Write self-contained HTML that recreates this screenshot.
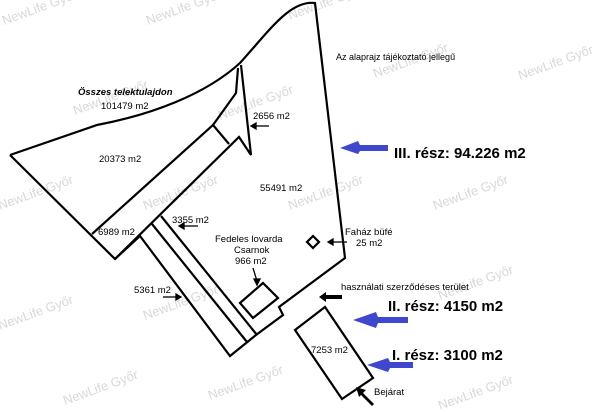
<!DOCTYPE html>
<html><head><meta charset="utf-8"><style>
html,body{margin:0;padding:0;background:#fff;}
svg{display:block;}
</style></head><body>
<svg width="600" height="413" viewBox="0 0 600 413" xmlns="http://www.w3.org/2000/svg" font-family="Liberation Sans, Arial, sans-serif">
<g fill="#d8d8d8" font-size="13">
<text transform="translate(4,25) rotate(-20)">NewLife Győr</text>
<text transform="translate(148,25) rotate(-20)">NewLife Győr</text>
<text transform="translate(290,20) rotate(-20)">NewLife Győr</text>
<text transform="translate(375,78) rotate(-20)">NewLife Győr</text>
<text transform="translate(520,80) rotate(-20)">NewLife Győr</text>
<text transform="translate(75,115) rotate(-20)">NewLife Győr</text>
<text transform="translate(220,120) rotate(-20)">NewLife Győr</text>
<text transform="translate(0,210) rotate(-20)">NewLife Győr</text>
<text transform="translate(145,210) rotate(-20)">NewLife Győr</text>
<text transform="translate(290,210) rotate(-20)">NewLife Győr</text>
<text transform="translate(435,210) rotate(-20)">NewLife Győr</text>
<text transform="translate(0,330) rotate(-20)">NewLife Győr</text>
<text transform="translate(145,320) rotate(-20)">NewLife Győr</text>
<text transform="translate(440,300) rotate(-20)">NewLife Győr</text>
<text transform="translate(65,405) rotate(-20)">NewLife Győr</text>
<text transform="translate(210,400) rotate(-20)">NewLife Győr</text>
<text transform="translate(440,410) rotate(-20)">NewLife Győr</text>
</g>
<g fill="none" stroke="#000" stroke-width="2.2" stroke-linejoin="miter">
<path d="M10,155 L97,125 C150,115 205,95 240,63 C270,30 290,0 315,3 L345,258 L279,307 L283,315 L256,335 L230,356 L140,236 L115,259 L10,155"/>
<path d="M92,234 L213,125 L236,93 L238,68"/>
<path d="M213,125 L229,144"/>
<path d="M115,259 L239,137 L251,155 L241,65"/>
<path d="M152,224 L247,342"/>
<path d="M161,216 L257,335"/>
<path d="M240,303 L263,283 L278,298 L253,318 Z"/>
<path d="M313,236 L319,242 L313,248 L307,242 Z"/>
<path d="M295,330 L325,307 L373,378 L342,399 Z"/>
</g>
<g stroke="#000" stroke-width="1.3" fill="#000">
<line x1="253" y1="268" x2="257" y2="281"/><path d="M254,279 L260,279 L257,285 Z"/>
<line x1="269" y1="126" x2="255" y2="126"/><path d="M256,123 L256,129 L251,126 Z"/>
<line x1="198" y1="226" x2="183" y2="226"/><path d="M184,223 L184,229 L179,226 Z"/>
<line x1="163" y1="297" x2="177" y2="297"/><path d="M176,294 L176,300 L181,297 Z"/>
<line x1="347" y1="242" x2="332" y2="242"/><path d="M333,239 L333,245 L328,242 Z"/>
</g>
<path d="M342,295 L326,295 L326,292 L319,297 L326,302 L326,299 L342,299 Z" fill="#000"/>
<path d="M374,404 L363,393 L366,390 L356,387 L359,397 L361,395 L372,406 Z" fill="#000"/>
<g fill="#3f48cc">
<path d="M388,145 L360,145 L358,141 L340,148 L358,154 L360,151 L388,151 Z"/>
<path d="M408,317 L378,317 L376,312 L353,320 L376,328 L378,323 L408,323 Z"/>
<path d="M413,362 L390,362 L388,358 L367,365 L388,372 L390,368 L413,368 Z"/>
</g>
<g font-size="9" fill="#000">
<text x="336" y="60">Az alaprajz tájékoztató jellegű</text>
<text x="78" y="95" font-weight="bold" font-style="italic" font-size="9.5">Összes telektulajdon</text>
<text x="101" y="109" font-size="9.5">101479 m2</text>
<text x="99" y="162" font-size="9.5">20373 m2</text>
<text x="253" y="119" font-size="9.5">2656 m2</text>
<text x="260" y="191" font-size="9.5">55491 m2</text>
<text x="172" y="223" font-size="9.5">3355 m2</text>
<text x="98" y="235" font-size="9.5">6989 m2</text>
<text x="215" y="242" font-size="9.5">Fedeles lovarda</text>
<text x="234" y="253" font-size="9.5">Csarnok</text>
<text x="235" y="264" font-size="9.5">966 m2</text>
<text x="345" y="235" font-size="9.5">Faház büfé</text>
<text x="356" y="246" font-size="9.5">25 m2</text>
<text x="134" y="293" font-size="9.5">5361 m2</text>
<text x="311" y="353" font-size="9.5">7253 m2</text>
<text x="341" y="290" font-size="9.5">használati szerződéses terület</text>
<text x="374" y="395" font-size="9.5">Bejárat</text>
</g>
<g font-size="15" font-weight="bold" fill="#000">
<text x="394" y="158">III. rész: 94.226 m2</text>
<text x="388" y="311">II. rész: 4150 m2</text>
<text x="392" y="360">I. rész: 3100 m2</text>
</g>
</svg>
</body></html>
